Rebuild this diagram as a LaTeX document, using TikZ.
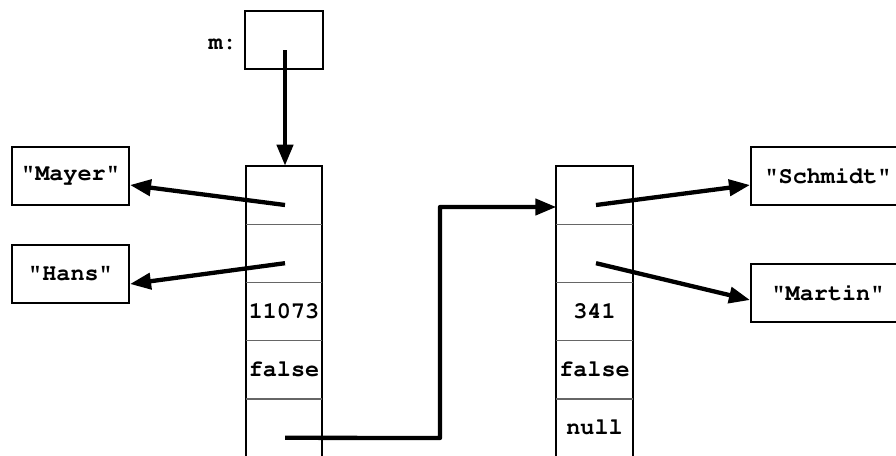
\documentclass[tikz,border=0pt]{standalone}
\usepackage[T1]{fontenc}
\renewcommand{\ttdefault}{pcr}
\usetikzlibrary{arrows.meta,calc}
\begin{document}
\begin{tikzpicture}[x=1pt,y=-1pt,
  every node/.style={font=\ttfamily\bfseries\fontsize{23.5}{23.5}\selectfont, inner sep=0pt},
  strbox/.style={draw, line width=2pt, minimum width=117pt, minimum height=58pt},
  wide/.style={strbox, minimum width=154pt},
  cell/.style={minimum width=76pt, minimum height=58.2pt},
  frame/.style={line width=2pt},
  divider/.style={line width=1.3pt, draw=black!60},
  ref/.style={line width=4.3pt, -{Triangle[length=21pt,width=16pt]}},
]
\useasboundingbox (0,0) rectangle (896,455);
\clip (0,0) rectangle (896,455);

% variable m
\node[draw, line width=2pt, minimum width=78pt, minimum height=58pt] (m) at (284,40) {};
\node[anchor=east] (mlabel) at (237,44) {m:};

% first object
\foreach \i/\t in {1/{},2/{},3/11073,4/false,5/{}}
  \node[cell] (L\i) at (284,{195+58.2*(\i-1)}) {\t};
\draw[frame] (L5.south west) -- (L1.north west) -- (L1.north east) -- (L5.south east);
\foreach \i in {1,2,3,4}
  \draw[divider] (L\i.south west) -- (L\i.south east);

% second object
\foreach \i/\t in {1/{},2/{},3/341,4/false,5/null}
  \node[cell] (R\i) at (594.5,{195+58.2*(\i-1)}) {\t};
\draw[frame] (R5.south west) -- (R1.north west) -- (R1.north east) -- (R5.south east);
\foreach \i in {1,2,3,4}
  \draw[divider] (R\i.south west) -- (R\i.south east);

% strings
\node[strbox] (mayer) at (70.5,176) {"Mayer"};
\node[strbox] (hans) at (70.5,274) {"Hans"};
\node[wide] (schmidt) at (828,176) {"Schmidt"};
\node[wide] (martin) at (828,293) {"Martin"};

% reference start points
\coordinate (mp) at ($(m.center)+(1,10)$);
\foreach \i in {1,2,5} \coordinate (L\i p) at ($(L\i.center)+(1,10)$);
\foreach \i in {1,2} \coordinate (R\i p) at ($(R\i.center)+(1.5,10)$);
\coordinate (bend) at (440,438);

% references
\draw[ref] (mp) -- (L1.north -| mp);
\draw[ref] (L1p) -- ($(mayer.east)+(0,9)$);
\draw[ref] (L2p) -- ($(hans.east)+(0,10)$);
\draw[ref] (R1p) -- ($(schmidt.west)+(0,9)$);
\draw[ref] (R2p) -- ($(martin.west)+(0,7)$);
\draw[ref, line join=round] (L5p) -- (bend) |- ($(R1.west)+(0,12)$);
\end{tikzpicture}
\end{document}
